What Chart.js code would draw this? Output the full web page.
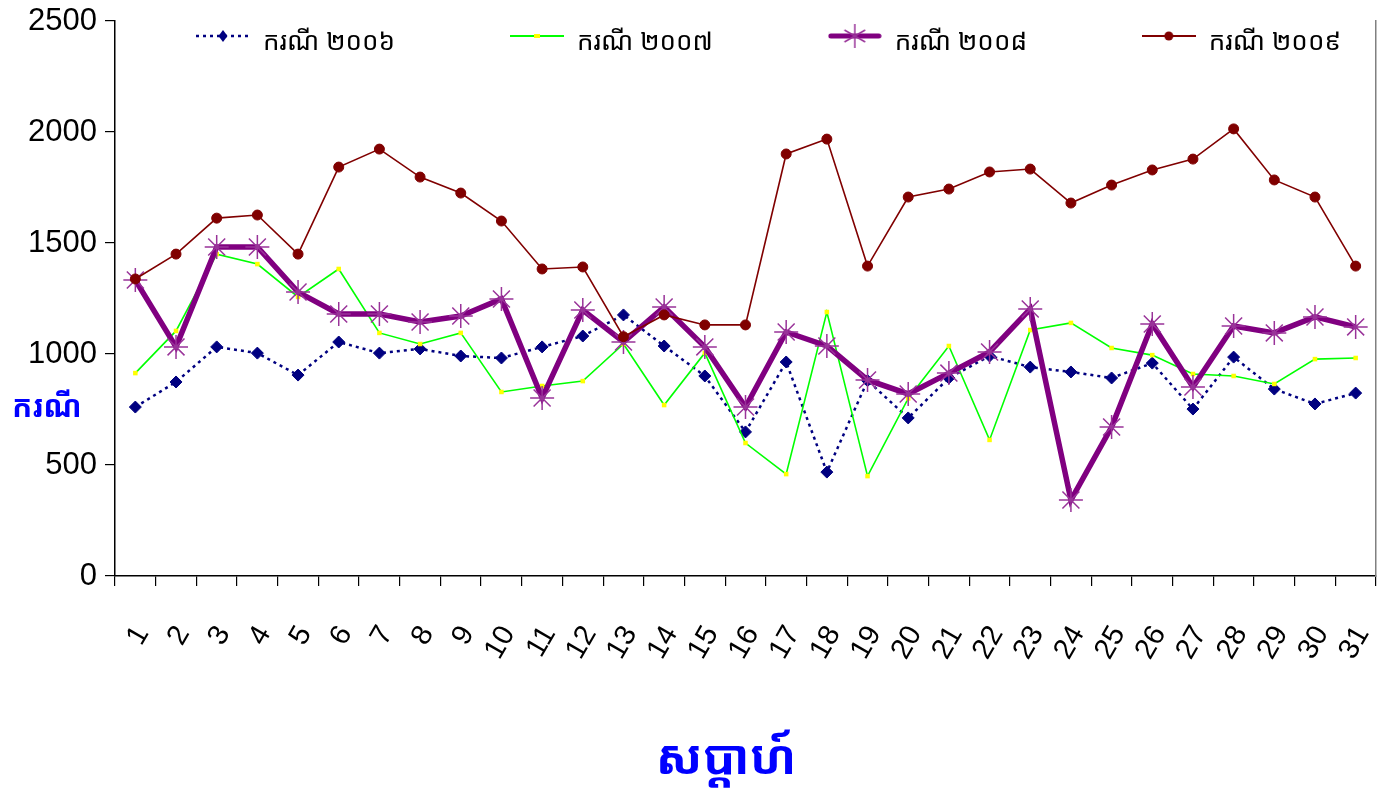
<!DOCTYPE html>
<html lang="km">
<head>
    <meta charset="UTF-8">
    <title>ករណី តាមសប្តាហ៍</title>
    <script src="https://cdn.jsdelivr.net/npm/chart.js"></script>
    <style>
        html, body { margin: 0; padding: 0; background: #fff; }
        .wrap { width: 1391px; height: 796px; position: relative; }
    </style>
</head>
<body>
<div class="wrap"><canvas id="grafico"></canvas></div>
<script>
    // semaine 1..31
    const weeks = ['1','2','3','4','5','6','7','8','9','10','11','12','13','14','15','16',
                   '17','18','19','20','21','22','23','24','25','26','27','28','29','30','31'];

    const legendLabels = ['ករណី ២០០៦', 'ករណី ២០០៧', 'ករណី ២០០៨', 'ករណី ២០០៩'];
    const yTitle = 'ករណី';
    const xTitle = 'សប្តាហ៍';

    const y2006 = [761, 874, 1032, 1004, 905, 1054, 1004, 1023, 991, 982, 1032, 1081, 1176, 1036, 901, 649,
                   964, 468, 880, 712, 892, 991, 941, 919, 892, 959, 752, 986, 842, 775, 824];
    const y2007 = [914, 1104, 1450, 1405, 1257, 1383, 1095, 1045, 1095, 829, 856, 878, 1045, 770, 1005, 599,
                   459, 1189, 450, 800, 1036, 613, 1108, 1140, 1027, 995, 910, 901, 865, 977, 982];
    const y2008 = [1333, 1032, 1482, 1482, 1279, 1180, 1180, 1144, 1171, 1248, 802, 1198, 1054, 1212, 1032, 761,
                   1099, 1036, 883, 820, 914, 1009, 1203, 342, 671, 1135, 851, 1126, 1095, 1167, 1122];
    const y2009 = [1338, 1450, 1612, 1626, 1450, 1842, 1923, 1797, 1725, 1599, 1383, 1392, 1078, 1176, 1131, 1131,
                   1901, 1968, 1396, 1707, 1743, 1820, 1833, 1680, 1761, 1829, 1878, 2014, 1784, 1707, 1396];

    const KHMER = '"Khmer OS", "Khmer OS System", "Noto Sans Khmer", "Noto Serif Khmer", Hanuman, sans-serif';
    const NARROW = '"Liberation Sans Narrow", "Liberation Sans", Arial, sans-serif';

    const LEGEND_X = 196;   // left of first legend symbol
    const LEGEND_Y = 43;    // centre line of legend row
    const LEGEND_STEP = 314;
    const LEGEND_FS = 26;
    const ICON_W = 54, ICON_H = 40;

    // legend symbols: line with its marker in the middle
    function makeIcon(draw) {
        const c = document.createElement('canvas');
        c.width = ICON_W; c.height = ICON_H;
        draw(c.getContext('2d'), ICON_W / 2, 13);
        return c;
    }
    const icons = [
        makeIcon((g, cx, ly) => {
            g.strokeStyle = '#000080'; g.lineWidth = 2.5; g.setLineDash([3, 4]);
            g.beginPath(); g.moveTo(0, ly); g.lineTo(ICON_W, ly); g.stroke();
            g.fillStyle = '#000080';
            g.beginPath(); g.moveTo(cx, ly - 6); g.lineTo(cx + 4.5, ly); g.lineTo(cx, ly + 6); g.lineTo(cx - 4.5, ly); g.fill();
        }),
        makeIcon((g, cx, ly) => {
            g.strokeStyle = '#00FF00'; g.lineWidth = 2;
            g.beginPath(); g.moveTo(0, ly); g.lineTo(ICON_W, ly); g.stroke();
            g.fillStyle = '#FFFF00'; g.fillRect(cx - 3, ly - 2, 6, 4);
        }),
        makeIcon((g, cx, ly) => {
            g.strokeStyle = '#800080'; g.lineWidth = 5; g.lineCap = 'round';
            g.beginPath(); g.moveTo(3, ly); g.lineTo(ICON_W - 3, ly); g.stroke();
            g.strokeStyle = '#993399'; g.lineWidth = 1.5; g.lineCap = 'butt';
            [90, 30, 150].forEach(a => {
                const r = a * Math.PI / 180, dx = Math.cos(r) * 12, dy = Math.sin(r) * 12;
                g.beginPath(); g.moveTo(cx - dx, ly - dy); g.lineTo(cx + dx, ly + dy); g.stroke();
            });
        }),
        makeIcon((g, cx, ly) => {
            g.strokeStyle = '#800000'; g.lineWidth = 2;
            g.beginPath(); g.moveTo(0, ly); g.lineTo(ICON_W, ly); g.stroke();
            g.fillStyle = '#800000'; g.beginPath(); g.arc(cx, ly, 4.5, 0, Math.PI * 2); g.fill();
        })
    ];

    // padding between legend items so that they sit ~314px apart
    const mctx = document.createElement('canvas').getContext('2d');
    mctx.font = LEGEND_FS + 'px ' + KHMER;
    const textW = mctx.measureText(legendLabels[0]).width;
    const legendPad = Math.max(10, LEGEND_STEP - (ICON_W + LEGEND_FS / 2 + textW));

    // legend drawn inside the plot area (takes no layout space), plus the two axis titles
    const extras = {
        id: 'extras',
        beforeLayout(chart) {
            const lg = chart.legend;
            if (lg && !lg._overlay) {
                const fit = lg.fit;
                lg.fit = function () { fit.call(this); this.height = 0; };
                lg._overlay = true;
            }
        },
        afterLayout(chart) {
            const lg = chart.legend;
            lg.left = LEGEND_X - legendPad;
            lg.right = lg.left + 1391;
            lg.width = 1391;
            lg.top = LEGEND_Y - LEGEND_FS / 2 - legendPad;
            lg.bottom = lg.top + 2 * legendPad + ICON_H;
            lg.height = lg.bottom - lg.top;
        },
        afterDraw(chart) {
            const ctx = chart.ctx;
            ctx.save();
            ctx.fillStyle = '#0000FF';
            ctx.textBaseline = 'middle';
            ctx.font = 'bold 30px ' + KHMER;
            ctx.textAlign = 'left';
            ctx.fillText(yTitle, 12, 408);
            ctx.font = 'bold 48px ' + KHMER;
            ctx.textAlign = 'center';
            ctx.fillText(xTitle, 726, 760);
            ctx.restore();
        }
    };

    const noPad = s => { s.paddingLeft = 0; s.paddingRight = 0; s.paddingTop = 0; s.paddingBottom = 0; };

    new Chart(document.getElementById('grafico'), {
        type: 'line',
        data: {
            labels: weeks,
            datasets: [
                {
                    label: legendLabels[0], data: y2006,
                    borderColor: '#000080', borderWidth: 2.5, borderDash: [3, 4],
                    pointStyle: 'rectRot', pointRadius: 6,
                    pointBackgroundColor: '#000080', pointBorderColor: '#000080', pointBorderWidth: 1,
                    order: 4
                },
                {
                    label: legendLabels[1], data: y2007,
                    borderColor: '#00FF00', borderWidth: 1.6,
                    pointStyle: 'rect', pointRadius: 3.2,
                    pointBackgroundColor: '#FFFF00', pointBorderColor: '#FFFF00', pointBorderWidth: 0,
                    order: 3
                },
                {
                    label: legendLabels[2], data: y2008,
                    borderColor: '#800080', borderWidth: 5.5,
                    pointStyle: 'star', pointRadius: 12,
                    pointBackgroundColor: '#993399', pointBorderColor: '#993399', pointBorderWidth: 1.5,
                    order: 2
                },
                {
                    label: legendLabels[3], data: y2009,
                    borderColor: '#800000', borderWidth: 1.6,
                    pointStyle: 'circle', pointRadius: 5,
                    pointBackgroundColor: '#800000', pointBorderColor: '#800000', pointBorderWidth: 1,
                    order: 1
                }
            ]
        },
        options: {
            responsive: true,
            maintainAspectRatio: false,
            animation: false,
            layout: { padding: { top: 21, right: 15, left: 0, bottom: 0 } },
            elements: { line: { tension: 0, fill: false } },
            plugins: {
                tooltip: { enabled: false },
                legend: {
                    position: 'top',
                    align: 'start',
                    labels: {
                        usePointStyle: true,
                        pointStyleWidth: ICON_W,
                        padding: legendPad,
                        color: '#000',
                        font: { family: KHMER, size: LEGEND_FS },
                        sort: (a, b) => a.datasetIndex - b.datasetIndex,
                        generateLabels: chart => {
                            const items = Chart.defaults.plugins.legend.labels.generateLabels(chart);
                            items.forEach(it => { it.pointStyle = icons[it.datasetIndex]; });
                            return items;
                        }
                    }
                }
            },
            scales: {
                x: {
                    offset: true,
                    grid: { offset: true, drawOnChartArea: false, drawTicks: true, tickLength: 10, color: '#000', lineWidth: 1.2 },
                    border: { color: '#000', width: 1.5 },
                    ticks: {
                        color: '#000', font: { family: NARROW, size: 29 },
                        minRotation: 60, maxRotation: 60, autoSkip: false,
                        padding: 34, labelOffset: 7
                    },
                    afterFit: s => { s.height = 220; noPad(s); }
                },
                y: {
                    min: 0, max: 2500,
                    grid: { drawOnChartArea: false, tickLength: 10, color: '#000', lineWidth: 1.2 },
                    border: { color: '#000', width: 1.5 },
                    ticks: {
                        stepSize: 500, color: '#000', font: { family: NARROW, size: 31 }, padding: 8,
                        callback: v => String(v)
                    },
                    afterFit: s => { s.width = 115; noPad(s); }
                },
                yR: {
                    position: 'right',
                    grid: { display: false, drawTicks: false },
                    ticks: { display: false },
                    border: { color: '#808080', width: 1.5 },
                    afterFit: s => { s.width = 0; noPad(s); }
                }
            }
        },
        plugins: [extras]
    });
</script>
</body>
</html>
